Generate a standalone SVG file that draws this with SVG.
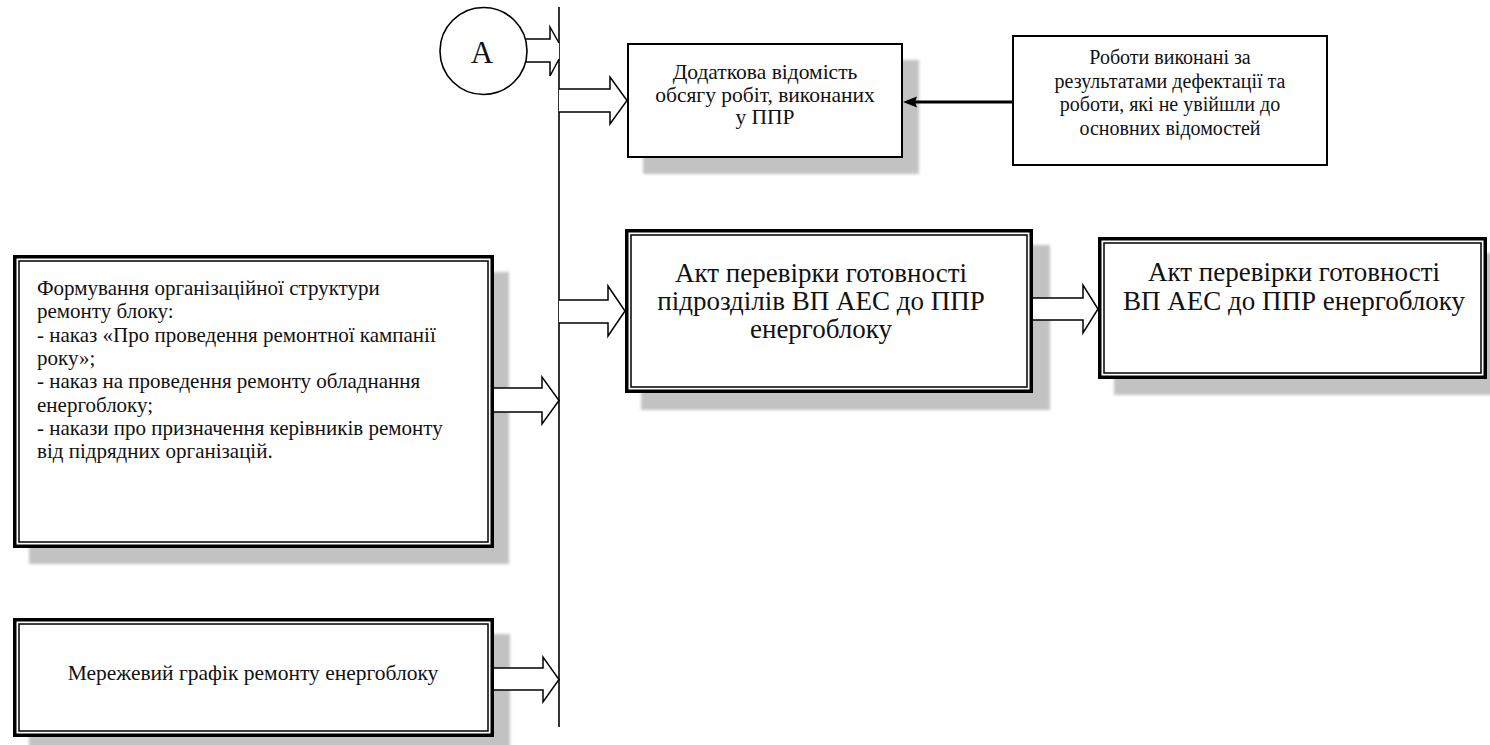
<svg xmlns="http://www.w3.org/2000/svg" width="1490" height="745" viewBox="0 0 1490 745">
  <defs>
    <filter id="soft" x="-10%" y="-10%" width="120%" height="120%">
      <feGaussianBlur stdDeviation="1.6"/>
    </filter>
  </defs>
  <style>
    .bg { fill: #ffffff; }
    .shadow { fill: #c2c2c2; filter: url(#soft); }
    .box { fill: #ffffff; stroke: #000000; stroke-width: 2; }
    .outer { fill: #ffffff; stroke: #000000; stroke-width: 3.5; }
    .inner { fill: none; stroke: #000000; stroke-width: 1.5; }
    .block { fill: #ffffff; stroke: #000000; stroke-width: 1.5; stroke-linejoin: miter; }
    .line { fill: none; stroke: #000000; stroke-width: 1.6; }
    .thick { fill: none; stroke: #000000; stroke-width: 3; }
    text { font-family: "Liberation Serif", "DejaVu Serif", serif; fill: #111111; }
    .t20 { font-size: 20px; }
    .t21 { font-size: 21px; }
    .t22 { font-size: 21.5px; }
    .t27 { font-size: 27px; }
    .mid { text-anchor: middle; }
  </style>

  <rect class="bg" x="0" y="0" width="1490" height="745"/>

  <!-- drop shadows of the boxes -->
  <g id="shadows">
    <rect class="shadow" x="643" y="60" width="276" height="114"/>
    <rect class="shadow" x="29" y="272" width="480" height="292"/>
    <rect class="shadow" x="29" y="634" width="481" height="120"/>
    <rect class="shadow" x="641" y="245" width="409" height="165"/>
    <rect class="shadow" x="1114" y="253" width="390" height="142"/>
  </g>

  <!-- connectors: bus line, block arrows, thin arrow -->
  <g id="connectors">
    <line class="line" x1="559" y1="7" x2="559" y2="727"/>
    <!-- A to bus (head cut by the bus line) -->
    <path fill="#ffffff" d="M526,40 L550,40 L550,28 L559,43 L559,59 L550,75 L550,61 L526,61 Z"/>
    <path class="block" style="fill:none" d="M526,39 L550,39 L550,27 L559,43 M559,59 L550,76 L550,62 L526,62"/>
    <!-- bus to additional list -->
    <path class="block" d="M559,89 L610,89 L610,77 L627,100.5 L610,124 L610,112 L559,112"/>
    <!-- bus to readiness act of units -->
    <path class="block" d="M559,300 L608,300 L608,286 L625,311 L608,336 L608,323 L559,323"/>
    <!-- act of units to act of power unit -->
    <path class="block" d="M1033,298 L1083,298 L1083,285 L1098,309 L1083,333 L1083,320 L1033,320"/>
    <!-- organisational structure to bus -->
    <path class="block" d="M494,388 L542,388 L542,377 L559,400.5 L542,424 L542,412 L494,412"/>
    <!-- network schedule to bus -->
    <path class="block" d="M494,668 L543,668 L543,657 L559,679.5 L543,702 L543,690 L494,690"/>
    <!-- defect works to additional list -->
    <line class="thick" x1="1012" y1="102" x2="914" y2="102"/>
    <polygon points="903,102 917,96.5 915,102 917,107.5" fill="#000000"/>
  </g>

  <g id="node-a">
    <circle cx="483.5" cy="51" r="43.5" fill="#ffffff" stroke="#000000" stroke-width="1.6"/>
    <text x="482" y="63" class="mid" style="font-size:31px">A</text>
  </g>

  <g id="node-additional-list">
    <rect class="box" x="628" y="44" width="274" height="113"/>
    <text class="t22 mid" x="765" y="79">Додаткова відомість</text>
    <text class="t22 mid" x="765" y="102">обсягу робіт, виконаних</text>
    <text class="t22 mid" x="765" y="124">у ППР</text>
  </g>

  <g id="node-defect-works">
    <rect class="box" x="1013" y="36" width="314" height="129"/>
    <text class="t20 mid" x="1170" y="64">Роботи виконані за</text>
    <text class="t20 mid" x="1170" y="88">результатами дефектації та</text>
    <text class="t20 mid" x="1170" y="111">роботи, які не увійшли до</text>
    <text class="t20 mid" x="1170" y="135">основних відомостей</text>
  </g>

  <g id="node-org-structure">
    <rect class="outer" x="14.75" y="256.75" width="477.5" height="289.5"/>
    <rect class="inner" x="19" y="261" width="469" height="281"/>
    <text class="t21" x="37" y="295">Формування організаційної структури</text>
    <text class="t21" x="37" y="318">ремонту блоку:</text>
    <text class="t21" x="37" y="342">- наказ «Про проведення ремонтної кампанії</text>
    <text class="t21" x="37" y="365">року»;</text>
    <text class="t21" x="37" y="388">- наказ на проведення ремонту обладнання</text>
    <text class="t21" x="37" y="412">енергоблоку;</text>
    <text class="t21" x="37" y="435">- накази про призначення керівників ремонту</text>
    <text class="t21" x="37" y="458">від підрядних організацій.</text>
  </g>

  <g id="node-network-schedule">
    <rect class="outer" x="14.75" y="619.75" width="477.5" height="115.5"/>
    <rect class="inner" x="19" y="624" width="469" height="107"/>
    <text class="t22 mid" x="253" y="680">Мережевий графік ремонту енергоблоку</text>
  </g>

  <g id="node-act-units">
    <rect class="outer" x="626.75" y="230.75" width="404.5" height="160.5"/>
    <rect class="inner" x="631" y="235" width="396" height="152"/>
    <text class="t27 mid" x="821" y="282">Акт перевірки готовності</text>
    <text class="t27 mid" x="821" y="310">підрозділів ВП АЕС до ППР</text>
    <text class="t27 mid" x="821" y="338">енергоблоку</text>
  </g>

  <g id="node-act-power-unit">
    <rect class="outer" x="1099.75" y="238.75" width="385.5" height="138.5"/>
    <rect class="inner" x="1104" y="243" width="377" height="130"/>
    <text class="t27 mid" x="1294" y="281">Акт перевірки готовності</text>
    <text class="t27 mid" x="1294" y="310">ВП АЕС до ППР енергоблоку</text>
  </g>
</svg>
